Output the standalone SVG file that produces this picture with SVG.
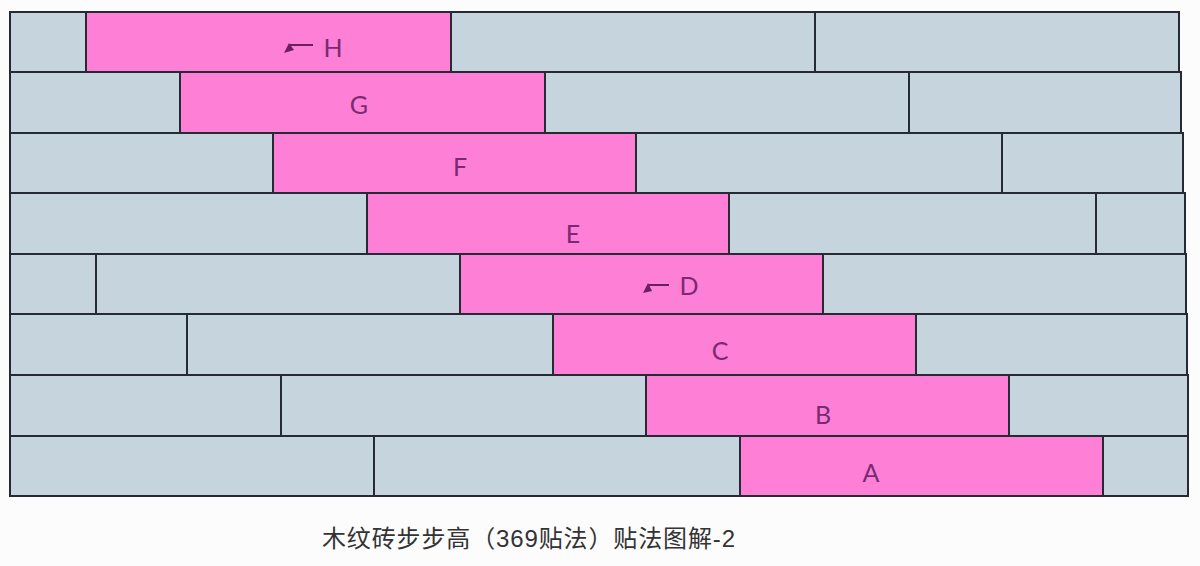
<svg xmlns="http://www.w3.org/2000/svg" width="1200" height="566" viewBox="0 0 1200 566">
<style>
.g{fill:#c6d4de;stroke:#262a35;stroke-width:2}
.p{fill:#fe80d6;stroke:#262a35;stroke-width:2}
.l{font-family:"Lato","Liberation Sans",sans-serif;font-size:25px;fill:#7a2a72;text-anchor:middle}
.ar{stroke:#6a2060;stroke-width:2;fill:none}
.ah{fill:#6a2060}
.cap{font-family:"Liberation Sans","Noto Sans CJK SC",sans-serif;font-size:24px;fill:#333}
</style>
<rect width="1200" height="566" fill="#fcfcfd"/>
<g id="row1">
<rect class="g" x="10" y="12" width="76" height="60"/>
<g id="H"><rect class="p" x="86" y="12" width="365" height="60"/>
<path class="ar" d="M290 45H313"/><path class="ah" d="M284 53L289 43L294 50Z"/>
<text class="l" x="333" y="57">H</text></g>
<rect class="g" x="451" y="12" width="364" height="60"/>
<rect class="g" x="815" y="12" width="364" height="60"/>
</g>
<g id="row2">
<rect class="g" x="10" y="72" width="170" height="61"/>
<g id="G"><rect class="p" x="180" y="72" width="365" height="61"/>
<text class="l" x="359" y="114">G</text></g>
<rect class="g" x="545" y="72" width="364" height="61"/>
<rect class="g" x="909" y="72" width="272" height="61"/>
</g>
<g id="row3">
<rect class="g" x="10" y="133" width="263" height="60"/>
<g id="F"><rect class="p" x="273" y="133" width="363" height="60"/>
<text class="l" x="460" y="176">F</text></g>
<rect class="g" x="636" y="133" width="366" height="60"/>
<rect class="g" x="1002" y="133" width="181" height="60"/>
</g>
<g id="row4">
<rect class="g" x="10" y="193" width="357" height="61"/>
<g id="E"><rect class="p" x="367" y="193" width="362" height="61"/>
<text class="l" x="573" y="243">E</text></g>
<rect class="g" x="729" y="193" width="367" height="61"/>
<rect class="g" x="1096" y="193" width="89" height="61"/>
</g>
<g id="row5">
<rect class="g" x="10" y="254" width="86" height="60"/>
<rect class="g" x="96" y="254" width="364" height="60"/>
<g id="D"><rect class="p" x="460" y="254" width="363" height="60"/>
<path class="ar" d="M648 285H669"/><path class="ah" d="M643 293L648 283L652 291Z"/>
<text class="l" x="689" y="295">D</text></g>
<rect class="g" x="823" y="254" width="363" height="60"/>
</g>
<g id="row6">
<rect class="g" x="10" y="314" width="177" height="61"/>
<rect class="g" x="187" y="314" width="366" height="61"/>
<g id="C"><rect class="p" x="553" y="314" width="363" height="61"/>
<text class="l" x="720" y="360">C</text></g>
<rect class="g" x="916" y="314" width="271" height="61"/>
</g>
<g id="row7">
<rect class="g" x="10" y="375" width="271" height="61"/>
<rect class="g" x="281" y="375" width="365" height="61"/>
<g id="B"><rect class="p" x="646" y="375" width="363" height="61"/>
<text class="l" x="823" y="424">B</text></g>
<rect class="g" x="1009" y="375" width="179" height="61"/>
</g>
<g id="row8">
<rect class="g" x="10" y="436" width="364" height="60"/>
<rect class="g" x="374" y="436" width="366" height="60"/>
<g id="A"><rect class="p" x="740" y="436" width="363" height="60"/>
<text class="l" x="871" y="482">A</text></g>
<rect class="g" x="1103" y="436" width="85" height="60"/>
</g>
<g id="connectors"></g>
<text class="cap" x="322" y="547" textLength="413" lengthAdjust="spacing">木纹砖步步高（369贴法）贴法图解-2</text>
</svg>
